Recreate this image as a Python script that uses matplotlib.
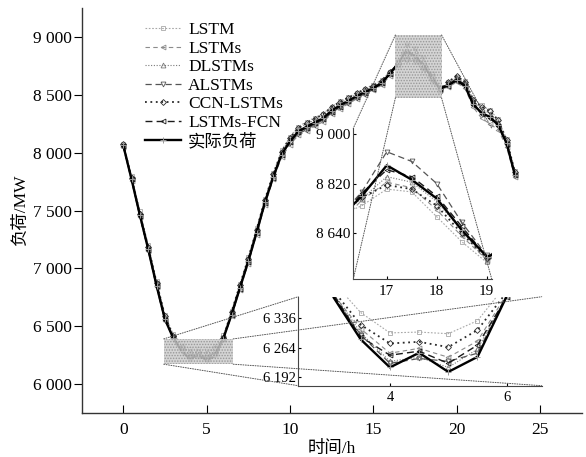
import matplotlib
matplotlib.use("Agg")
import matplotlib.pyplot as plt
from matplotlib.patches import Rectangle, ConnectionPatch
from matplotlib.ticker import FuncFormatter

plt.rcParams['font.family'] = ['Liberation Serif', 'Noto Sans CJK SC']
plt.rcParams['font.size'] = 12
plt.rcParams['axes.unicode_minus'] = False
plt.rcParams['hatch.linewidth'] = 0.7

# half-hourly time stamps (h)
hours = [0.0, 0.5, 1.0, 1.5, 2.0, 2.5, 3.0, 3.5, 4.0, 4.5, 5.0, 5.5,
         6.0, 6.5, 7.0, 7.5, 8.0, 8.5, 9.0, 9.5, 10.0, 10.5, 11.0, 11.5,
         12.0, 12.5, 13.0, 13.5, 14.0, 14.5, 15.0, 15.5, 16.0, 16.5, 17.0, 17.5,
         18.0, 18.5, 19.0, 19.5, 20.0, 20.5, 21.0, 21.5, 22.0, 22.5, 23.0, 23.5]

actual = [8065, 7770, 7460, 7165, 6850, 6560, 6395, 6284, 6215, 6251, 6204, 6241,
          6390, 6600, 6830, 7060, 7310, 7570, 7790, 7985, 8100, 8185, 8225, 8262,
          8300, 8365, 8410, 8450, 8490, 8525, 8560, 8605, 8685, 8775, 8886, 8834,
          8766, 8652, 8556, 8585, 8630, 8580, 8420, 8345, 8310, 8240, 8085, 7810]

lstm = [8080, 7800, 7495, 7200, 6890, 6600, 6430, 6350, 6300, 6302, 6298, 6330,
        6420, 6630, 6860, 7095, 7345, 7600, 7825, 8020, 8140, 8225, 8270, 8305,
        8340, 8400, 8445, 8480, 8520, 8555, 8590, 8630, 8700, 8740, 8800, 8790,
        8700, 8610, 8535, 8610, 8660, 8620, 8470, 8410, 8370, 8290, 8120, 7840]

lstms = [8050, 7755, 7440, 7150, 6835, 6545, 6400, 6310, 6250, 6262, 6240, 6280,
         6395, 6585, 6815, 7040, 7290, 7550, 7770, 7960, 8070, 8150, 8190, 8230,
         8270, 8335, 8380, 8425, 8465, 8500, 8540, 8585, 8665, 8760, 8825, 8805,
         8725, 8630, 8545, 8570, 8610, 8560, 8395, 8300, 8250, 8200, 8050, 7790]

dlstms = [8070, 7790, 7480, 7180, 6870, 6575, 6405, 6300, 6230, 6240, 6215, 6260,
          6392, 6620, 6845, 7075, 7330, 7585, 7810, 8005, 8125, 8210, 8250, 8285,
          8320, 8385, 8430, 8470, 8505, 8540, 8575, 8620, 8695, 8765, 8845, 8825,
          8755, 8650, 8540, 8600, 8650, 8600, 8445, 8380, 8340, 8265, 8100, 7825]

alstms = [8060, 7760, 7450, 7170, 6860, 6565, 6398, 6295, 6225, 6237, 6230, 6250,
          6393, 6610, 6840, 7070, 7320, 7575, 7800, 7995, 8085, 8165, 8200, 8245,
          8285, 8345, 8395, 8435, 8475, 8510, 8550, 8595, 8690, 8790, 8935, 8900,
          8820, 8680, 8560, 8595, 8640, 8590, 8430, 8335, 8300, 8230, 8080, 7800]

ccn_lstms = [8075, 7785, 7470, 7185, 6875, 6590, 6410, 6320, 6274, 6278, 6265, 6307,
             6400, 6625, 6855, 7085, 7335, 7595, 7815, 8010, 8130, 8215, 8260, 8295,
             8335, 8395, 8440, 8475, 8515, 8550, 8580, 8625, 8700, 8770, 8815, 8800,
             8740, 8640, 8550, 8615, 8665, 8615, 8460, 8400, 8360, 8280, 8115, 7835]

lstms_fcn = [8062, 7775, 7455, 7160, 6845, 6555, 6402, 6290, 6245, 6255, 6225, 6270,
             6388, 6595, 6825, 7055, 7305, 7565, 7785, 7980, 8095, 8180, 8215, 8255,
             8295, 8355, 8400, 8445, 8485, 8520, 8555, 8600, 8680, 8785, 8870, 8845,
             8775, 8665, 8555, 8580, 8625, 8575, 8415, 8340, 8305, 8235, 8080, 7805]

series = [
    ("LSTM", lstm, dict(color="#a8a8a8", ls=(0, (1.5, 1.5)), lw=0.8, marker="s", ms=3.0)),
    ("LSTMs", lstms, dict(color="#8c8c8c", ls=(0, (4, 3)), lw=0.8, marker="<", ms=3.5)),
    ("DLSTMs", dlstms, dict(color="#7a7a7a", ls=(0, (1, 1.5)), lw=0.8, marker="^", ms=3.5)),
    ("ALSTMs", alstms, dict(color="#555555", ls=(0, (5, 3)), lw=0.9, marker="v", ms=3.5)),
    ("CCN-LSTMs", ccn_lstms, dict(color="#2a2a2a", ls=(0, (1, 2)), lw=1.3, marker="D", ms=3.0)),
    ("LSTMs-FCN", lstms_fcn, dict(color="#1a1a1a", ls=(0, (5, 3)), lw=1.0, marker="<", ms=3.5)),
]
actual_style = dict(color="black", ls="-", lw=1.7, marker="+", ms=4, mec="#999999", mew=0.7)

# thousands grouped with a space, e.g. "9 000"
space_fmt = FuncFormatter(lambda v, p: f"{v:,.0f}".replace(",", " "))


def draw_all(ax, with_labels):
    for name, vals, st in series:
        ax.plot(hours, vals, mfc="none", mew=0.6, label=name if with_labels else None, **st)
    ax.plot(hours, actual, label="实际负荷" if with_labels else None, **actual_style)


fig = plt.figure(figsize=(5.86, 4.57), dpi=100)
ax = fig.add_axes([0.1392, 0.0969, 0.8532, 0.8847])
draw_all(ax, True)
ax.set_xlim(-2.5, 27.5)
ax.set_ylim(5750, 9250)
ax.set_xticks([0, 5, 10, 15, 20, 25])
ax.set_yticks([6000, 6500, 7000, 7500, 8000, 8500, 9000])
ax.yaxis.set_major_formatter(space_fmt)
for s in ("top", "right"):
    ax.spines[s].set_visible(False)
for s in ("left", "bottom"):
    ax.spines[s].set_linewidth(1.0)
    ax.spines[s].set_color("#333333")
ax.tick_params(axis="x", direction="in", length=6, pad=7, labelsize=12.5)
ax.tick_params(axis="y", direction="out", length=6, pad=1, labelsize=12.5)
ax.set_xlabel("时间/h", fontsize=12.5, labelpad=2)
ax.set_ylabel("负荷/MW", fontsize=12.5, labelpad=3)

leg = ax.legend(loc="upper left", bbox_to_anchor=(0.247, 0.952), bbox_transform=fig.transFigure,
                frameon=False, handlelength=2.1, handletextpad=0.4, labelspacing=0.14,
                borderpad=0, borderaxespad=0, fontsize=12.5)

# zoom windows: (x0, x1, y0, y1) and inset placement in figure fraction
zooms = [
    ((16.33, 19.1, 8475, 9020), [0.6029, 0.3895, 0.2362, 0.3298], [17, 18, 19], [8640, 8820, 9000], 11),
    ((2.43, 6.6, 6170, 6389), [0.509, 0.156, 0.4154, 0.1947], [4, 6], [6192, 6264, 6336], 10.5),
]

for (x0, x1, y0, y1), pos, xt, yt, fs in zooms:
    ax.add_patch(Rectangle((x0, y0), x1 - x0, y1 - y0, facecolor="#cdcdcd", edgecolor="#8f8f8f",
                           hatch="......", lw=0, alpha=0.85, zorder=5))
    axin = fig.add_axes(pos)
    axin.patch.set_alpha(0)
    draw_all(axin, False)
    axin.set_xlim(x0, x1)
    axin.set_ylim(y0, y1)
    axin.set_xticks(xt)
    axin.set_yticks(yt)
    axin.yaxis.set_major_formatter(space_fmt)
    for s in ("top", "right"):
        axin.spines[s].set_visible(False)
    for s in ("left", "bottom"):
        axin.spines[s].set_linewidth(0.8)
        axin.spines[s].set_color("#444444")
    axin.tick_params(axis="y", direction="in", length=2.5, pad=2, labelsize=fs)
    axin.tick_params(axis="x", direction="in", length=2.5, pad=4, labelsize=fs)
    corners = [((x0, y1), (0, 1)), ((x1, y1), (1, 1)), ((x0, y0), (0, 0)), ((x1, y0), (1, 0))]
    for a, b in corners:
        cp = ConnectionPatch(xyA=a, coordsA=ax.transData, xyB=b, coordsB=axin.transAxes,
                             ls=(0, (1, 1.5)), lw=0.7, color="#555555")
        fig.add_artist(cp)

fig.savefig("out.png", dpi=100)
